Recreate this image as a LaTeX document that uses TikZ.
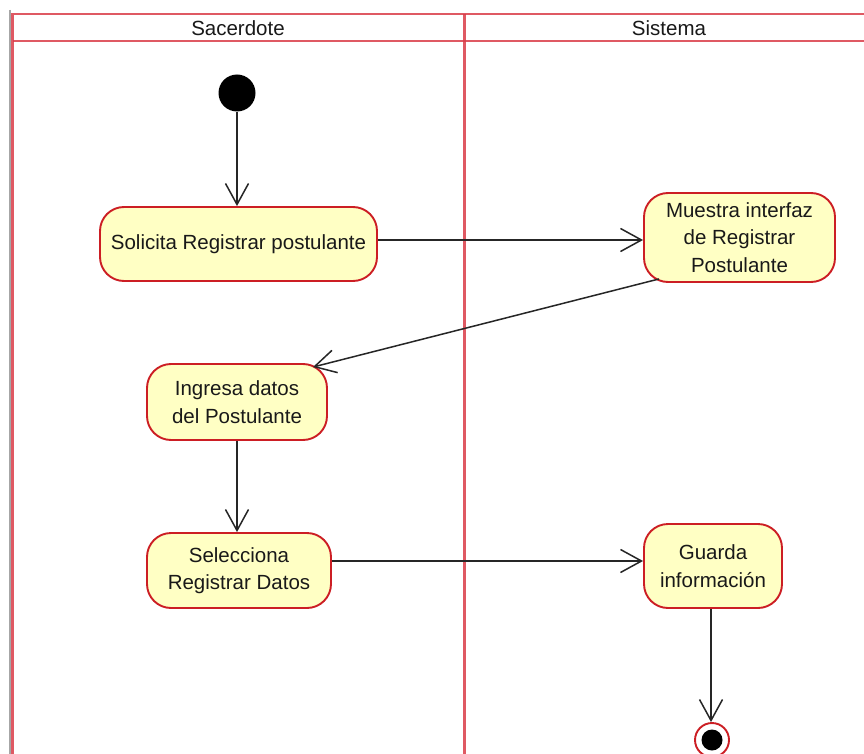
\documentclass[tikz,border=0pt]{standalone}
\usepackage{fontspec}
\setmainfont{Liberation Sans}
\usetikzlibrary{arrows.meta}
\definecolor{actfill}{RGB}{255,255,196}
\definecolor{actline}{RGB}{204,30,36}
\definecolor{laneline}{RGB}{218,60,72}
\begin{document}
\begin{tikzpicture}[x=1pt,y=-1pt,
  action/.style={draw=actline, line width=1.9pt, fill=actfill, rounded corners=24pt,
    align=center, font=\fontsize{20.5}{27.5}\selectfont, inner sep=0pt, text=black!90},
  flow/.style={draw=black!85, line width=1.5pt, -{Straight Barb[length=21pt,width=23pt,line width=1.5pt]}},
  lane/.style={draw=laneline, line width=2.2pt, opacity=0.85},
  lanetitle/.style={font=\fontsize{20.5}{24}\selectfont, text=black!90}]
\useasboundingbox (0,0) rectangle (864,754);
\fill[white] (0,0) rectangle (864,754);

% swimlane frame
\draw[gray!70, line width=2pt] (9.5,10) -- (9.5,754);
\draw[lane] (12.5,754) -- (12.5,14) -- (864,14);
\draw[lane] (12.5,41) -- (864,41);
\draw[lane] (464.5,14) -- (464.5,754);
\node[lanetitle] (t1) at (238,28) {Sacerdote};
\node[lanetitle] (t2) at (669,28) {Sistema};

% activity nodes
\node[fill=black, circle, minimum size=37pt, inner sep=0pt] (start) at (237,93) {};
\node[action, minimum width=277pt, minimum height=74pt] (a1) at (238.5,244) {Solicita Registrar postulante};
\node[action, minimum width=191pt, minimum height=89pt] (a2) at (739.5,237.5) {Muestra interfaz\\de Registrar\\Postulante};
\node[action, minimum width=180pt, minimum height=76pt] (a3) at (237,402) {Ingresa datos\\del Postulante};
\node[action, minimum width=184pt, minimum height=75pt] (a4) at (239,570.5) {Selecciona\\Registrar Datos};
\node[action, minimum width=138pt, minimum height=84pt] (a5) at (713,566) {Guarda\\información};
\node[draw=actline, line width=1.9pt, fill=white, circle, minimum size=34pt, inner sep=0pt] (stop) at (712,740) {};
\node[fill=black, circle, minimum size=21pt, inner sep=0pt] (stopdot) at (stop) {};

% control flows
\draw[flow] (start) -- (a1.north -| start);
\draw[flow] (a1.east |- 0,240) -- (a2.west |- 0,240);
\draw[flow] ([xshift=16pt,yshift=4pt]a2.south west) -- ([xshift=-15pt,yshift=-4pt]a3.north east);
\draw[flow] (a3.south) -- (a4.north -| a3.south);
\draw[flow] (a4.east |- 0,561) -- (a5.west |- 0,561);
\draw[flow] (a5.south -| 711,0) -- (stop.north -| 711,0);
\end{tikzpicture}
\end{document}
